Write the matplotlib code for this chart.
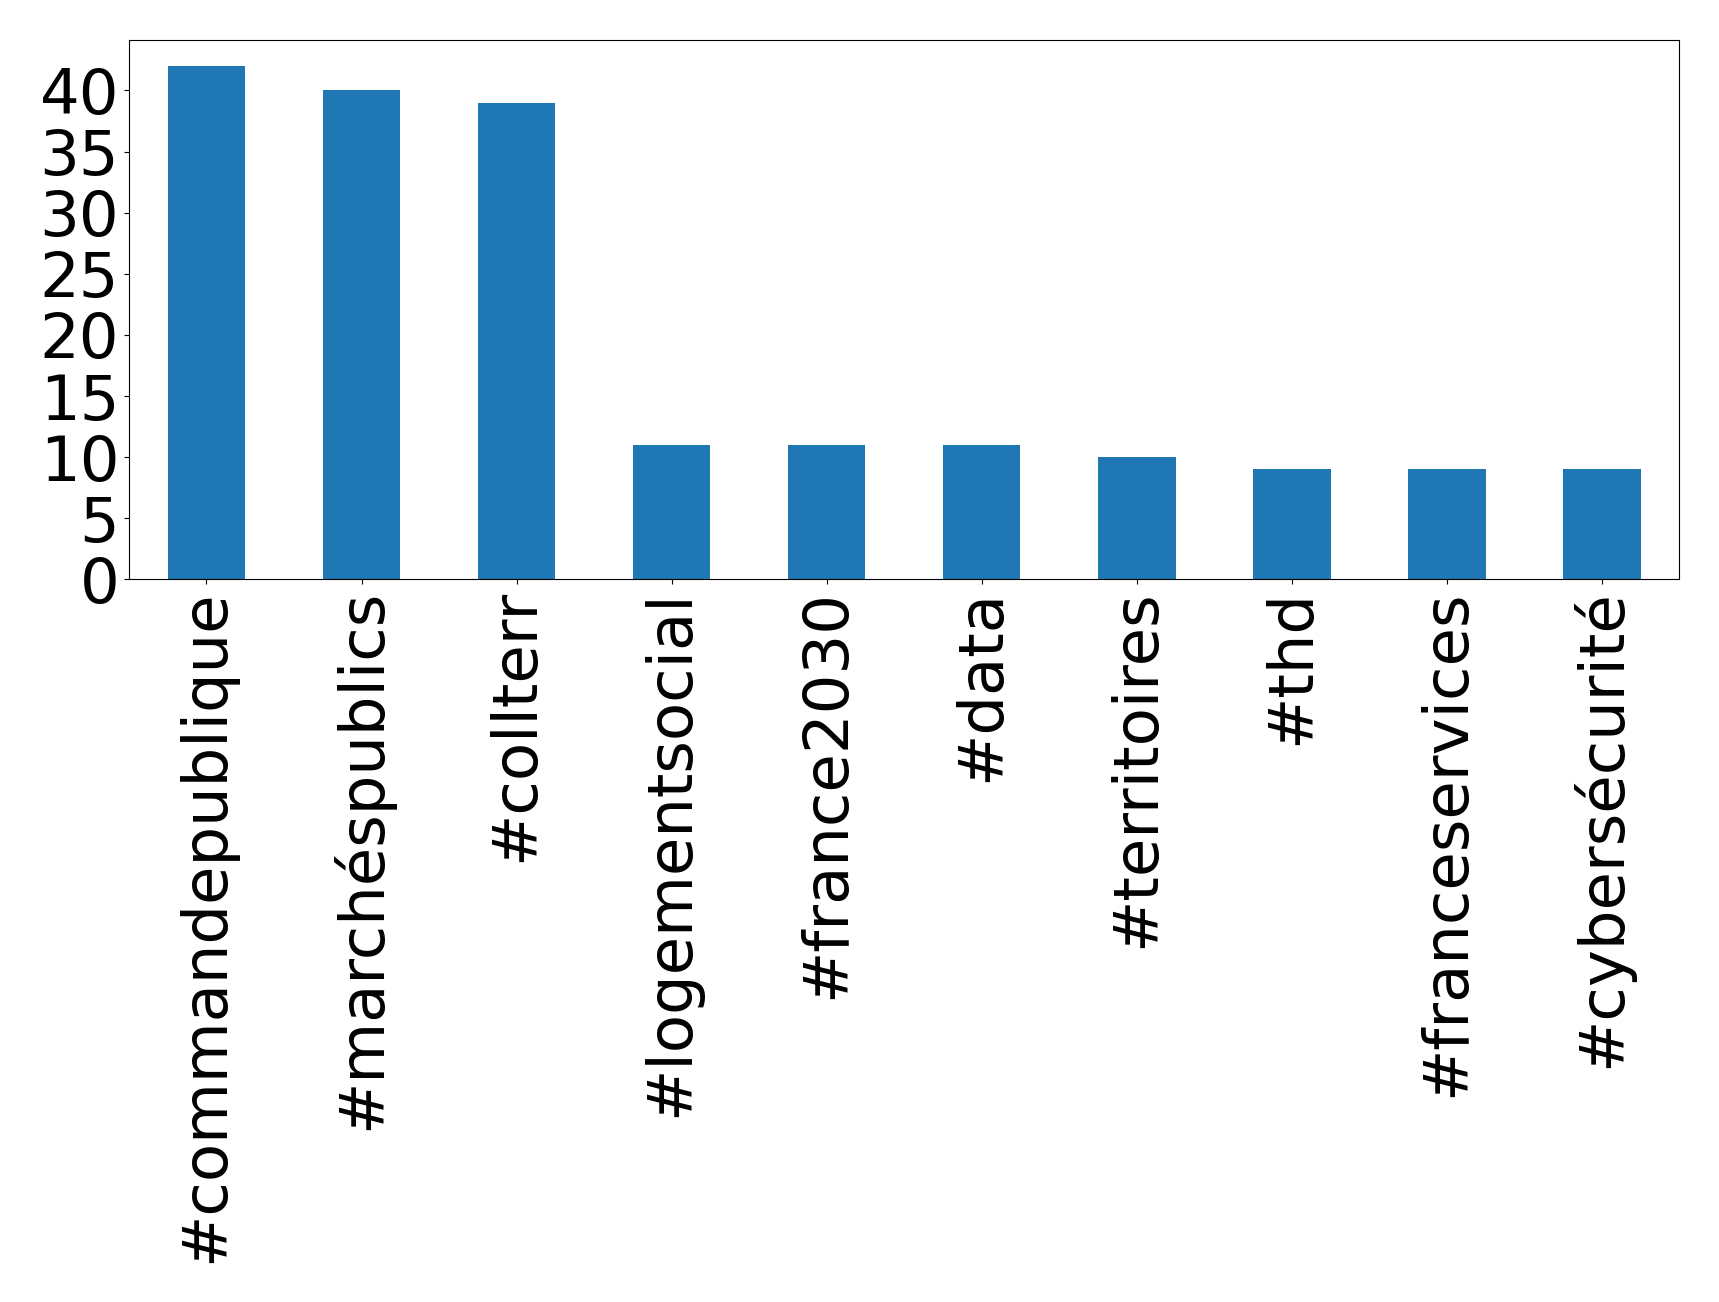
import matplotlib
matplotlib.use("Agg")
import matplotlib.pyplot as plt
import pandas as pd

hashtags = ['#commandepublique', '#marchéspublics', '#collterr', '#logementsocial',
            '#france2030', '#data', '#territoires', '#thd', '#franceservices',
            '#cybersécurité']
counts = [42, 40, 39, 11, 11, 11, 10, 9, 9, 9]

s = pd.Series(counts, index=hashtags)

fig, ax = plt.subplots(figsize=(17.19, 13.02), dpi=100)
s.plot(kind='bar', ax=ax, color='#1f77b4', fontsize=45)
ax.set_xlim(-0.5, 9.5)
ax.set_ylim(0, 44.1)
ax.set_yticks(range(0, 45, 5))
fig.subplots_adjust(left=0.075, right=0.977, top=0.969, bottom=0.555)
fig.savefig('out.png', dpi=100)
